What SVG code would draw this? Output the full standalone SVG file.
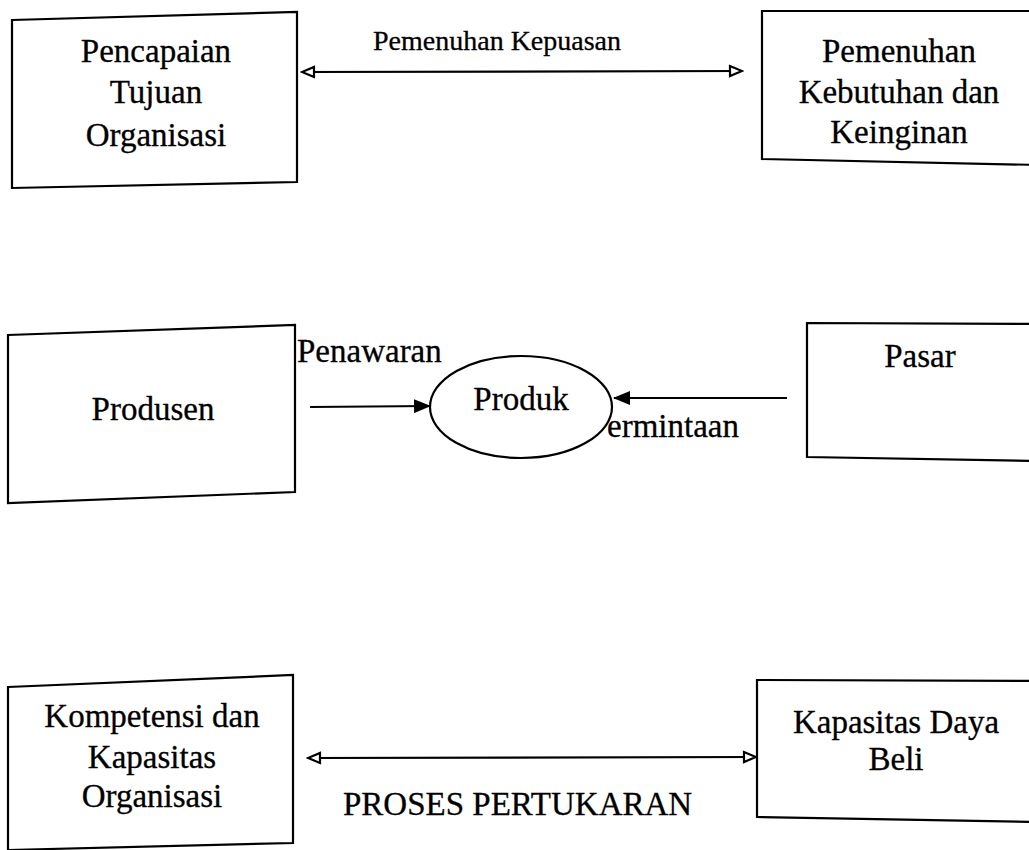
<svg xmlns="http://www.w3.org/2000/svg" width="1029" height="850" viewBox="0 0 1029 850">
<style>
.box{fill:#fff;stroke:#000;stroke-width:2.2}
.t{font-family:"Liberation Serif","Times New Roman",serif;font-size:33px;fill:#000;text-anchor:middle;stroke:#000;stroke-width:0.3}
.lbl{font-family:"Liberation Serif","Times New Roman",serif;font-size:33px;fill:#000;stroke:#000;stroke-width:0.3}
.c{stroke:#000;stroke-width:2.2;fill:none}
</style>
<defs>
<marker id="open" markerUnits="userSpaceOnUse" markerWidth="16" markerHeight="14" refX="14" refY="7" orient="auto-start-reverse" viewBox="0 0 16 14">
<path d="M2,2 L14,7 L2,12 z" fill="#fff" stroke="#000" stroke-width="2.2"/>
</marker>
<marker id="solid" markerUnits="userSpaceOnUse" markerWidth="18" markerHeight="14" refX="16" refY="7" orient="auto" viewBox="0 0 18 14">
<path d="M0,0 L17,7 L0,14 z" fill="#000"/>
</marker>
</defs>
<rect width="1029" height="850" fill="#fff"/>

<g id="connectors">
<line class="c" x1="302" y1="72" x2="742" y2="71" marker-start="url(#open)" marker-end="url(#open)"/>
<text class="lbl" x="373" y="50" style="font-size:28px">Pemenuhan Kepuasan</text>
<line class="c" x1="310" y1="407" x2="430" y2="406" marker-end="url(#solid)"/>
<text class="lbl" x="297" y="362">Penawaran</text>
<line class="c" x1="787" y1="398" x2="614" y2="398" marker-end="url(#solid)"/>
<text class="lbl" x="607" y="437">ermintaan</text>
<line class="c" x1="308" y1="758" x2="756" y2="757" marker-start="url(#open)" marker-end="url(#open)"/>
<text class="lbl" x="343" y="815">PROSES PERTUKARAN</text>
</g>

<g id="pencapaian">
<polygon class="box" points="12,20 297,12 297,182 12,188"/>
<text class="t" x="156" y="62">Pencapaian</text>
<text class="t" x="156" y="103">Tujuan</text>
<text class="t" x="156" y="146">Organisasi</text>
</g>

<g id="pemenuhan">
<polygon class="box" points="762,11 1040,11 1040,165 762,159"/>
<text class="t" x="899" y="62">Pemenuhan</text>
<text class="t" x="899" y="103">Kebutuhan dan</text>
<text class="t" x="899" y="143">Keinginan</text>
</g>

<g id="produsen">
<polygon class="box" points="8,335 295,325 295,492 8,503"/>
<text class="t" x="153" y="420">Produsen</text>
</g>

<g id="produk">
<ellipse class="box" cx="521" cy="407" rx="91" ry="51"/>
<text class="t" x="521" y="410">Produk</text>
</g>

<g id="pasar">
<polygon class="box" points="807,323 1040,324 1040,461 807,457"/>
<text class="t" x="920" y="367">Pasar</text>
</g>

<g id="kompetensi">
<polygon class="box" points="8,687 293,675 293,843 8,850"/>
<text class="t" x="152" y="727">Kompetensi dan</text>
<text class="t" x="152" y="768">Kapasitas</text>
<text class="t" x="152" y="807">Organisasi</text>
</g>

<g id="kapasitas">
<polygon class="box" points="757,680 1040,681 1040,822 757,817"/>
<text class="t" x="896" y="733">Kapasitas Daya</text>
<text class="t" x="896" y="770">Beli</text>
</g>
</svg>
